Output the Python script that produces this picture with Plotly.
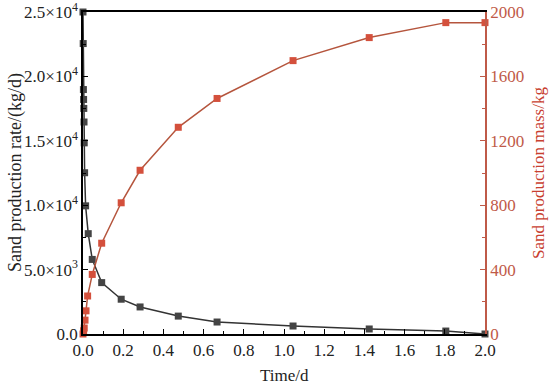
import plotly.graph_objects as go

# Sand production rate (kg/d) vs time (d)
rate_time = [0, 0.001, 0.002, 0.003, 0.004, 0.005, 0.006, 0.008, 0.013, 0.026,
             0.046, 0.093, 0.19, 0.284, 0.474, 0.667, 1.045, 1.424, 1.805, 2.0]
rate_values = [25000, 22550, 18980, 18210, 17515, 16460, 14840, 12520, 9950, 7790,
               5790, 3990, 2700, 2100, 1390, 930, 620, 390, 230, 0]

# Cumulative sand production mass (kg) vs time (d)
mass_time = [0, 0.003, 0.006, 0.01, 0.015, 0.023, 0.046, 0.093, 0.19, 0.284,
             0.474, 0.667, 1.045, 1.424, 1.805, 2.0]
mass_values = [0, 20, 37, 86, 144, 236, 370, 564, 815, 1017,
               1284, 1463, 1698, 1841, 1934, 1934]

left_tickvals = [0, 5000, 10000, 15000, 20000, 25000]
left_ticktext = ["0.0", "5.0×10<sup>3</sup>", "1.0×10<sup>4</sup>", "1.5×10<sup>4</sup>",
                 "2.0×10<sup>4</sup>", "2.5×10<sup>4</sup>"]
x_tickvals = [0, 0.2, 0.4, 0.6, 0.8, 1.0, 1.2, 1.4, 1.6, 1.8, 2.0]
x_ticktext = ["0.0", "0.2", "0.4", "0.6", "0.8", "1.0", "1.2", "1.4", "1.6", "1.8", "2.0"]
right_tickvals = [0, 400, 800, 1200, 1600, 2000]

FONT = "Liberation Serif, Times New Roman, serif"
RED_AXIS = "#bf5a48"
RED_TITLE = "#c8402f"
RED_LINE = "#b5553d"
RED_MARK = "#d4503c"
BLACK_LINE = "#333333"
BLACK_MARK = "#444444"
TXT = "#222222"

fig = go.Figure()
fig.add_trace(go.Scatter(
    x=rate_time, y=rate_values, mode="lines+markers",
    line=dict(color=BLACK_LINE, width=1.5),
    marker=dict(symbol="square", size=7, color=BLACK_MARK),
    cliponaxis=False, showlegend=False, yaxis="y"))
fig.add_trace(go.Scatter(
    x=mass_time, y=mass_values, mode="lines+markers",
    line=dict(color=RED_LINE, width=1.5),
    marker=dict(symbol="square", size=7, color=RED_MARK),
    cliponaxis=False, showlegend=False, yaxis="y2"))

fig.update_layout(
    width=550, height=388,
    margin=dict(l=83, r=65, t=12, b=54, autoexpand=False),
    paper_bgcolor="white", plot_bgcolor="white",
    font=dict(family=FONT, size=17, color=TXT),
    xaxis=dict(
        range=[0, 2.0], tickvals=x_tickvals, ticktext=x_ticktext, automargin=False,
        ticks="inside", ticklen=5, tickcolor="black", showgrid=False, zeroline=False,
        showline=True, linecolor="black", linewidth=1.5, mirror=True,
        minor=dict(ticks="inside", dtick=0.1, ticklen=3, tickcolor="black"),
        tickfont=dict(family=FONT, size=17, color=TXT), ticklabeloverflow="allow",
    ),
    yaxis=dict(
        range=[0, 25000], tickvals=left_tickvals, ticktext=left_ticktext, automargin=False,
        ticks="inside", ticklen=5, tickcolor="black", showgrid=False, zeroline=False,
        showline=True, linecolor="black", linewidth=1.5,
        minor=dict(ticks="inside", dtick=2500, ticklen=3, tickcolor="black"),
        tickfont=dict(family=FONT, size=17, color=TXT), ticklabeloverflow="allow",
    ),
    yaxis2=dict(
        range=[0, 2000], tickvals=right_tickvals, overlaying="y", side="right", automargin=False,
        ticks="inside", ticklen=5, tickcolor=RED_AXIS, showgrid=False, zeroline=False,
        showline=True, linecolor=RED_AXIS, linewidth=1.5,
        minor=dict(ticks="inside", dtick=200, ticklen=3, tickcolor=RED_AXIS),
        tickfont=dict(family=FONT, size=17, color=RED_AXIS), ticklabeloverflow="allow",
    ),
    annotations=[
        dict(text="Time/d", xref="paper", yref="paper", x=0.5, y=0,
             xanchor="center", yanchor="middle", yshift=-41, showarrow=False,
             font=dict(family=FONT, size=17, color=TXT)),
        dict(text="Sand production rate/(kg/d)", xref="paper", yref="paper", x=0, y=0.5,
             xanchor="center", yanchor="middle", xshift=-68, textangle=-90, showarrow=False,
             font=dict(family=FONT, size=18, color=TXT)),
        dict(text="Sand production mass/kg", xref="paper", yref="paper", x=1, y=0.5,
             xanchor="center", yanchor="middle", xshift=53, textangle=-90, showarrow=False,
             font=dict(family=FONT, size=17, color=RED_TITLE)),
    ],
)

fig.write_html("out.html", config={"displayModeBar": False},
               post_script="document.body.style.margin='0';document.body.style.padding='0';")
